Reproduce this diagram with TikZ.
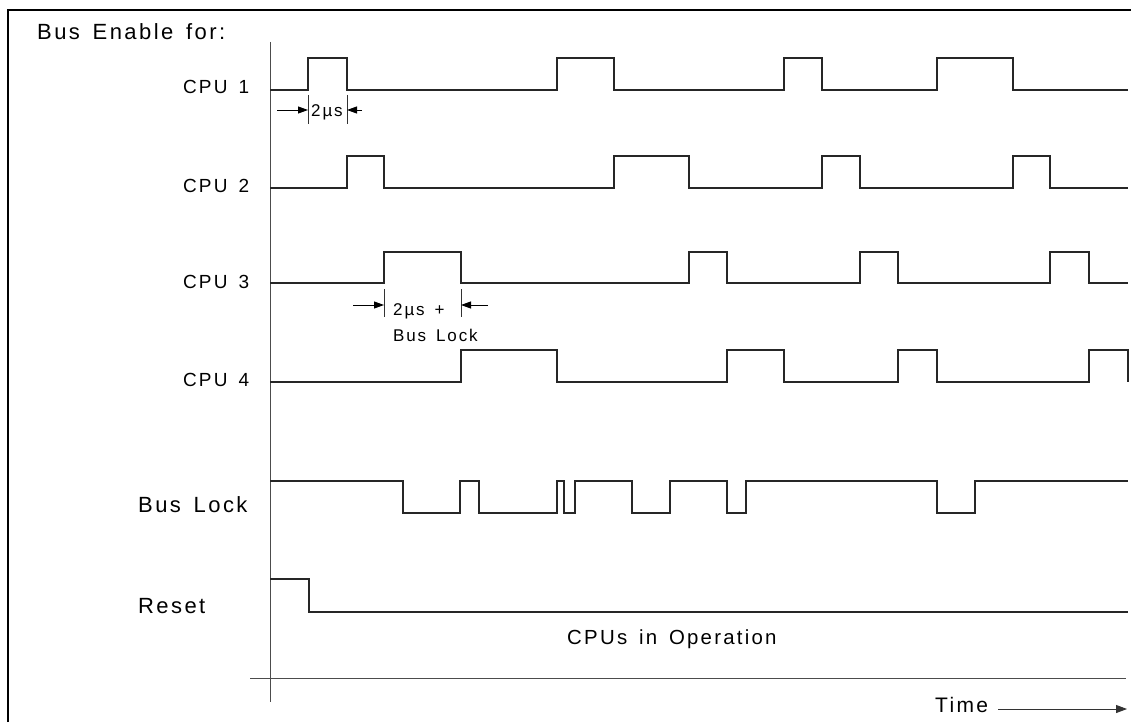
\documentclass[tikz,border=0pt]{standalone}
\usepackage{fontspec}
\setmainfont{Liberation Sans}
\newfontfamily\labfont[LetterSpace=11]{Liberation Sans}
\newfontfamily\wlabfont[LetterSpace=11,WordSpace=1.5]{Liberation Sans}
\usetikzlibrary{arrows.meta}
\begin{document}
\begin{tikzpicture}[x=1pt,y=-1pt,
  wave/.style={line width=1.2pt, draw=black!85, line join=miter},
  axisline/.style={line width=1pt, draw=black!70},
  frameline/.style={line width=1.5pt, draw=black},
  biglab/.style={font={\labfont\fontsize{22}{25}\selectfont}, anchor=base west, inner sep=0pt},
  widelab/.style={font={\wlabfont\fontsize{22}{25}\selectfont}, anchor=base west, inner sep=0pt},
  operlab/.style={font={\labfont\fontsize{20.4}{24}\selectfont}, anchor=base west, inner sep=0pt},
  timelab/.style={font={\labfont\fontsize{21}{24}\selectfont}, anchor=base west, inner sep=0pt},
  cpulab/.style={font={\wlabfont\fontsize{19}{22}\selectfont}, anchor=base west, inner sep=0pt},
  annlab/.style={font={\labfont\fontsize{17}{20}\selectfont}, anchor=base west, inner sep=0pt},
  dimarrow/.style={line width=0.9pt, draw=black, -{Triangle[length=10pt,width=7pt]}},
  dimtick/.style={line width=0.9pt, draw=black!80},
  timearrow/.style={line width=0.9pt, draw=black!80, -{Triangle[length=11pt,width=8pt]}}
]
\useasboundingbox (0,0) rectangle (1131,722);
% frame (top and left)
\draw[frameline] (8,722) -- (8,10) -- (1131,10);
% axes
\draw[axisline] (270,42) -- (270,702);
\draw[axisline] (250,678) -- (1126,678);

% labels
\node[widelab] (title) at (37,40) {Bus Enable for:};
\node[cpulab] (cpu1) at (183,94) {CPU 1};
\node[cpulab] (cpu2) at (183,192) {CPU 2};
\node[cpulab] (cpu3) at (183,288) {CPU 3};
\node[cpulab] (cpu4) at (183,386) {CPU 4};
\node[widelab] (buslock) at (138,512) {Bus Lock};
\node[biglab] (reset) at (138,613) {Reset};
\node[operlab] (oper) at (567,644) {CPUs in Operation};
\node[timelab] (time) at (935,712) {Time};

% waveforms
\draw[wave] (270,90) -- (308,90) -- (308,58) -- (347,58) -- (347,90) -- (557,90) -- (557,58) -- (614,58) -- (614,90) -- (784,90) -- (784,58) -- (822,58) -- (822,90) -- (937,90) -- (937,58) -- (1013,58) -- (1013,90) -- (1128,90);
\draw[wave] (270,188) -- (347,188) -- (347,156) -- (384,156) -- (384,188) -- (614,188) -- (614,156) -- (689,156) -- (689,188) -- (822,188) -- (822,156) -- (860,156) -- (860,188) -- (1013,188) -- (1013,156) -- (1050,156) -- (1050,188) -- (1128,188);
\draw[wave] (270,283) -- (384,283) -- (384,252) -- (461,252) -- (461,283) -- (689,283) -- (689,252) -- (727,252) -- (727,283) -- (860,283) -- (860,252) -- (898,252) -- (898,283) -- (1050,283) -- (1050,252) -- (1089,252) -- (1089,283) -- (1128,283);
\draw[wave] (270,382) -- (461,382) -- (461,350) -- (557,350) -- (557,382) -- (727,382) -- (727,350) -- (784,350) -- (784,382) -- (898,382) -- (898,350) -- (937,350) -- (937,382) -- (1089,382) -- (1089,350) -- (1128,350) -- (1128,382);
\draw[wave] (270,481) -- (403,481) -- (403,513) -- (460,513) -- (460,481) -- (479,481) -- (479,513) -- (557,513) -- (557,481) -- (564,481) -- (564,513) -- (575,513) -- (575,481) -- (632,481) -- (632,513) -- (670,513) -- (670,481) -- (727,481) -- (727,513) -- (746,513) -- (746,481) -- (937,481) -- (937,513) -- (975,513) -- (975,481) -- (1128,481);
\draw[wave] (270,579) -- (309,579) -- (309,612) -- (1128,612);

% 2us annotation (CPU 1)
\coordinate (a1s) at (277,110);
\coordinate (a1e) at (308,110);
\coordinate (a2s) at (362,110);
\coordinate (a2e) at (347,110);
\coordinate (t1a) at (308,95);
\coordinate (t1b) at (308,124);
\coordinate (t2a) at (347,95);
\coordinate (t2b) at (347,124);
\draw[dimtick] (t1a) -- (t1b);
\draw[dimtick] (t2a) -- (t2b);
\draw[dimarrow] (a1s) -- (a1e);
\draw[dimarrow] (a2s) -- (a2e);
\node[annlab] (us1) at (311,117) {2µs};

% 2us + Bus Lock annotation (CPU 3)
\coordinate (b1s) at (353,305);
\coordinate (b1e) at (384,305);
\coordinate (b2s) at (488,305);
\coordinate (b2e) at (461,305);
\coordinate (u1a) at (384,289);
\coordinate (u1b) at (384,317);
\coordinate (u2a) at (461,289);
\coordinate (u2b) at (461,317);
\draw[dimtick] (u1a) -- (u1b);
\draw[dimtick] (u2a) -- (u2b);
\draw[dimarrow] (b1s) -- (b1e);
\draw[dimarrow] (b2s) -- (b2e);
\node[annlab] (us3) at (393,315) {2µs +};
\node[annlab] (bl3) at (393,341) {Bus Lock};

% time arrow
\coordinate (ta) at (998,709);
\coordinate (tb) at (1127,709);
\draw[timearrow] (ta) -- (tb);
\end{tikzpicture}
\end{document}
